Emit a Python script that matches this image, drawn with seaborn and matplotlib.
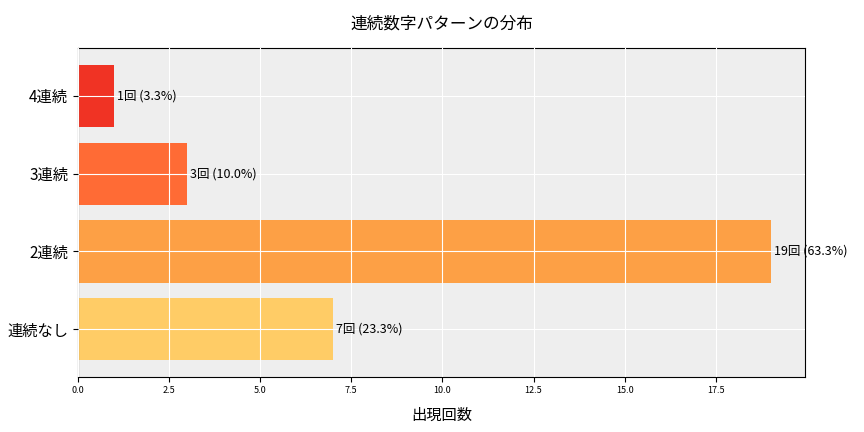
import matplotlib
matplotlib.use("Agg")
import matplotlib.pyplot as plt
import seaborn as sns
import pandas as pd

categories = ["4連続", "3連続", "2連続", "連続なし"]
counts = [1, 3, 19, 7]
colors = ["#F03324", "#FF6B35", "#FDA045", "#FFCC66"]
total = sum(counts)

plt.rcParams["font.family"] = "Noto Sans CJK JP"
fig, ax = plt.subplots(figsize=(8.64, 4.32), dpi=100)
df = pd.DataFrame({"cat": categories, "n": counts})
sns.barplot(data=df, y="cat", x="n", hue="cat", palette=colors, order=categories,
            orient="h", ax=ax, width=0.8, legend=False, saturation=1)
ax.set_facecolor("#EEEEEE")
ax.grid(True, color="white", linewidth=0.8)
ax.set_axisbelow(False)
for i, c in enumerate(counts):
    ax.text(c + 0.08, i, f"{c}回 ({c/total*100:.1f}%)", va="center", fontsize=9)
ax.set_xlim(0, 19.95)
ax.set_ylim(3.61, -0.61)
ax.set_xticks([0, 2.5, 5, 7.5, 10, 12.5, 15, 17.5])
ax.set_xticklabels(["0.0", "2.5", "5.0", "7.5", "10.0", "12.5", "15.0", "17.5"])
ax.tick_params(axis="x", labelsize=6.5)
ax.tick_params(axis="y", labelsize=11)
ax.set_ylabel("")
ax.set_xlabel("出現回数", fontsize=11, labelpad=8)
ax.set_title("連続数字パターンの分布", fontsize=12, pad=14)
plt.subplots_adjust(left=0.09, right=0.932, top=0.888, bottom=0.128)
fig.savefig("out.png", dpi=100)
